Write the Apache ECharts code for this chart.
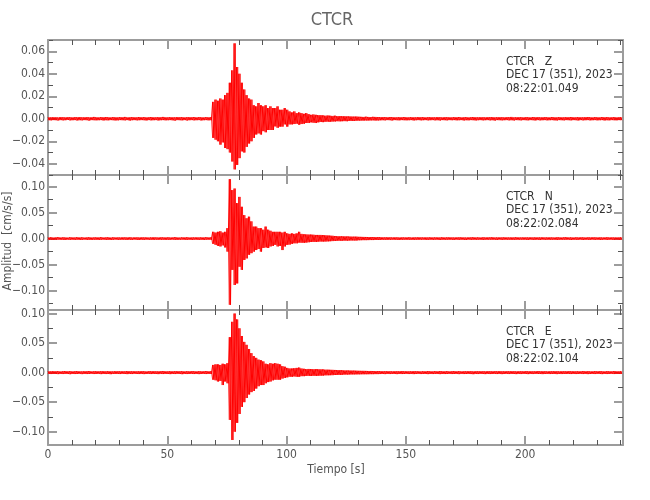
<!DOCTYPE html>
<html>
<head>
<meta charset="utf-8">
<script src="https://cdn.jsdelivr.net/npm/echarts@6/dist/echarts.min.js"></script>
<style>
html,body{margin:0;padding:0;background:#fff;}
#main{width:650px;height:500px;}
</style>
</head>
<body>
<div id="main"></div>
<script>
// ---------------- DATA ----------------
// Envelope of each trace, one sample per second (t = 0..240 s),
// in units of 1e-4 cm/s/s: upper peak and lower peak in that second.
const SCALE = 1e-4;
const SAMPLE_STEP = 1;

const chartTitle = 'CTCR';
const stationLabels = ['CTCR   Z', 'CTCR   N', 'CTCR   E'];
const dateLabels = ['DEC 17 (351), 2023', 'DEC 17 (351), 2023', 'DEC 17 (351), 2023'];
const startLabels = ['08:22:01.049', '08:22:02.084', '08:22:02.104'];
const xAxisName = 'Tiempo [s]';
const yAxisName = 'Amplitud  [cm/s/s]';

const xRange = [0, 241];
const xMajorTicks = [0, 50, 100, 150, 200];
const xMinorTicks = [10, 20, 30, 40, 60, 70, 80, 90, 110, 120, 130, 140, 160, 170, 180, 190, 210, 220, 230, 240];

const yRanges = [[-0.05, 0.07], [-0.137, 0.122], [-0.1225, 0.106]];
const yMajorTicks = [
  [-0.04, -0.02, 0, 0.02, 0.04, 0.06],
  [-0.10, -0.05, 0, 0.05, 0.10],
  [-0.10, -0.05, 0, 0.05, 0.10]
];
const yMinorTicks = [
  [-0.05, -0.03, -0.01, 0.01, 0.03, 0.05, 0.07],
  [-0.125, -0.075, -0.025, 0.025, 0.075],
  [-0.075, -0.025, 0.025, 0.075]
];

const zUpper = [
  13,12,14,13,11,15,13,12,14,13, 12,14,13,15,12,13,14,12,13,16,
  13,12,14,13,15,13,12,14,13,12, 14,13,16,12,13,14,13,12,15,13,
  14,12,13,15,13,12,14,13,16,13, 12,14,13,12,15,13,14,12,13,14,
  13,15,12,14,13,12,14,13,14,150, 170,160,180,170,210,230,320,430,670,460,
  400,320,260,210,180,170,120,110,140,120, 110,120,95,110,95,95,110,80,80,95,
  80,65,56,65,50,56,50,44,50,41, 35,38,35,32,32,30,27,29,27,25,
  27,23,24,22,23,21,21,20,19,20, 18,17,16,18,16,15,17,16,15,14,
  15,14,13,15,14,13,12,14,13,15, 13,12,14,13,12,15,13,14,12,13,
  14,13,12,15,13,12,14,13,13,12, 14,13,15,12,13,14,12,13,15,13,
  12,14,13,12,14,13,15,12,13,14, 13,12,14,13,16,12,13,14,13,12,
  14,13,12,15,13,14,12,13,14,13, 12,15,13,12,14,13,12,14,13,15,
  13,12,14,13,12,14,15,13,12,14, 13,12,15,13,14,12,13,14,12,13,14
];
const zLower = [
  -13,-14,-12,-13,-15,-12,-14,-13,-11,-14, -13,-12,-15,-13,-14,-12,-13,-16,-12,-13,
  -14,-13,-12,-15,-13,-14,-12,-13,-15,-14, -12,-13,-14,-12,-16,-13,-12,-14,-13,-12,
  -13,-15,-12,-14,-13,-12,-15,-13,-12,-14, -13,-12,-14,-16,-12,-13,-14,-12,-15,-13,
  -12,-14,-13,-12,-15,-13,-12,-14,-13,-170, -186,-200,-230,-210,-260,-270,-300,-380,-450,-410,
  -350,-290,-300,-250,-220,-200,-170,-140,-130,-140, -110,-120,-100,-100,-100,-68,-80,-70,-70,-50,
  -70,-50,-50,-47,-44,-53,-47,-44,-38,-38, -32,-35,-38,-32,-29,-30,-27,-26,-27,-25,
  -24,-22,-23,-22,-21,-22,-19,-20,-19,-18, -17,-16,-17,-15,-16,-15,-14,-16,-15,-14,
  -13,-14,-12,-13,-15,-12,-13,-14,-12,-13, -14,-13,-12,-15,-13,-12,-14,-13,-12,-14,
  -13,-12,-14,-13,-15,-12,-13,-14,-12,-13, -12,-14,-13,-12,-15,-13,-14,-12,-13,-15,
  -13,-12,-14,-13,-12,-14,-13,-16,-12,-13, -14,-13,-12,-14,-13,-15,-12,-13,-14,-12,
  -13,-14,-12,-13,-15,-12,-14,-13,-12,-14, -13,-12,-14,-15,-12,-13,-14,-12,-13,-14,
  -12,-13,-15,-12,-14,-13,-12,-14,-13,-12, -14,-13,-12,-15,-13,-14,-12,-13,-14,-12,-13
];
const nUpper = [
  22,25,20,23,27,21,24,22,19,25, 23,21,26,22,24,20,23,25,21,22,
  24,22,27,21,23,25,20,24,22,23, 21,25,23,22,26,20,24,23,21,25,
  22,24,20,23,26,22,21,25,23,22, 24,21,23,27,22,20,24,23,25,21,
  23,22,25,21,24,22,26,23,24,130, 115,130,140,115,130,200,1140,930,960,680,
  800,610,450,390,420,330,230,230,200,200, 170,230,170,150,130,130,130,130,115,130,
  100,90,100,90,100,130,90,83,80,77, 77,74,70,70,70,67,64,60,57,54,
  50,46,45,44,43,42,40,38,37,38, 34,33,32,31,30,30,29,28,28,27,
  25,23,26,24,22,25,23,21,24,22, 23,25,21,24,22,26,23,22,24,21,
  25,22,23,24,21,26,22,23,25,22, 21,24,23,25,22,20,24,23,26,22,
  23,21,25,22,24,23,27,21,22,24, 22,25,23,21,24,22,26,23,21,24,
  23,22,25,21,24,23,22,26,21,23, 24,22,21,25,23,22,24,27,22,23,
  21,24,22,25,23,21,24,22,26,23, 22,24,21,23,25,22,24,21,23,22,25
];
const nLower = [
  -23,-21,-25,-22,-20,-24,-22,-26,-21,-23, -22,-24,-21,-25,-23,-20,-24,-22,-26,-21,
  -23,-25,-22,-21,-24,-23,-26,-22,-20,-24, -22,-23,-21,-25,-22,-24,-20,-23,-26,-22,
  -24,-21,-23,-22,-25,-20,-24,-23,-21,-26, -22,-24,-21,-23,-25,-22,-20,-24,-23,-22,
  -25,-21,-23,-24,-22,-26,-21,-23,-22,-100, -120,-140,-150,-130,-170,-250,-1270,-600,-890,-860,
  -540,-600,-410,-380,-310,-280,-250,-220,-200,-250, -180,-170,-180,-150,-140,-120,-150,-140,-220,-150,
  -120,-115,-100,-90,-90,-77,-80,-80,-77,-70, -64,-64,-64,-60,-57,-57,-57,-54,-51,-48,
  -45,-43,-42,-41,-40,-40,-38,-37,-36,-38, -32,-31,-30,-30,-29,-28,-28,-27,-26,-26,
  -24,-22,-25,-23,-21,-24,-22,-26,-23,-21, -24,-22,-23,-25,-21,-24,-22,-20,-25,-23,
  -22,-24,-21,-23,-26,-22,-24,-21,-23,-22, -25,-21,-23,-22,-24,-26,-21,-23,-22,-24,
  -21,-23,-25,-22,-24,-20,-23,-22,-25,-21, -24,-22,-23,-21,-25,-23,-22,-24,-20,-23,
  -22,-25,-21,-23,-24,-22,-26,-21,-23,-22, -24,-21,-23,-25,-22,-24,-21,-23,-22,-26,
  -23,-22,-24,-21,-25,-23,-22,-24,-21,-23, -22,-25,-23,-21,-24,-22,-23,-25,-21,-24,-22
];
const eUpper = [
  23,21,25,22,24,20,23,26,22,24, 21,23,25,22,20,24,23,27,21,22,
  24,22,23,25,21,24,22,20,25,23, 22,24,21,26,23,22,24,21,23,25,
  22,20,24,23,25,21,22,24,26,23, 21,24,22,23,25,22,24,21,23,22,
  25,23,21,24,22,23,26,22,24,130, 140,140,130,150,140,160,600,860,1000,900,
  750,620,520,470,400,330,280,250,220,210, 190,150,140,160,150,160,150,140,110,100,
  80,70,70,75,80,85,70,65,60,62, 60,58,60,57,56,55,50,50,48,47,
  45,44,43,40,38,37,36,35,34,33, 31,30,30,29,28,28,27,26,26,25,
  24,22,25,23,21,24,22,23,26,22, 24,21,23,25,22,24,20,23,22,25,
  23,21,24,22,26,23,22,24,21,23, 25,22,24,21,23,22,25,23,21,24,
  22,24,23,21,25,22,23,24,22,26, 21,23,24,22,25,23,21,24,22,23,
  25,22,24,21,23,26,22,24,23,21, 24,22,25,23,21,24,22,23,25,22,
  24,21,23,22,25,23,24,21,22,24, 23,25,22,21,24,23,22,25,23,21,24
];
const eLower = [
  -22,-24,-21,-23,-25,-22,-24,-21,-23,-26, -22,-24,-23,-21,-25,-22,-24,-23,-20,-24,
  -23,-21,-25,-22,-24,-23,-26,-21,-23,-22, -24,-21,-23,-25,-22,-24,-20,-23,-24,-22,
  -25,-23,-21,-24,-22,-23,-25,-21,-24,-22, -23,-25,-22,-24,-21,-23,-26,-22,-24,-23,
  -21,-24,-22,-25,-23,-21,-24,-22,-23,-120, -130,-150,-140,-210,-150,-180,-800,-1140,-1000,-850,
  -700,-580,-500,-430,-370,-330,-310,-270,-230,-210, -210,-180,-160,-150,-130,-120,-120,-120,-100,-90,
  -80,-70,-70,-65,-70,-70,-60,-60,-56,-55, -56,-54,-55,-53,-52,-50,-46,-45,-44,-43,
  -40,-40,-39,-36,-34,-33,-32,-31,-30,-30, -29,-28,-28,-27,-27,-26,-26,-25,-25,-24,
  -23,-25,-22,-24,-21,-23,-25,-22,-24,-23, -21,-24,-22,-25,-23,-21,-24,-22,-23,-25,
  -22,-24,-21,-23,-25,-22,-24,-23,-21,-24, -23,-22,-25,-21,-24,-23,-22,-24,-26,-22,
  -24,-21,-23,-25,-22,-24,-23,-21,-24,-22, -25,-23,-21,-24,-22,-23,-25,-22,-24,-21,
  -23,-25,-22,-24,-21,-23,-22,-25,-23,-21, -24,-22,-23,-25,-22,-24,-21,-23,-22,-24,
  -22,-24,-23,-21,-24,-22,-25,-23,-22,-24, -21,-23,-25,-22,-24,-23,-21,-24,-22,-23,-22
];
const traceUpper = [zUpper, nUpper, eUpper];
const traceLower = [zLower, nLower, eLower];

// ---------------- LAYOUT / STYLE ----------------
const PLOT_LEFT = 48, PLOT_WIDTH = 575, PLOT_TOP = 40, PANEL_H = 135;
const FONT = "'Liberation Sans Narrow','DejaVu Sans Condensed','Liberation Sans',sans-serif";
const FRAME = '#9c9c9c';
const MINOR = '#555555';
const TXT = '#555555';

function fmtY(v) {
  const s = Math.abs(v).toFixed(2);
  return (v < -1e-9 ? '\u2212' : '') + s;
}

// The envelope band is drawn as two zigzag polylines of opposite phase
// (peak then trough, and trough then peak, in every sample interval).
function buildTrace(up, lo, phase) {
  const pts = [];
  for (let i = 0; i < up.length; i++) {
    const t = i * SAMPLE_STEP;
    const a = phase ? lo[i] : up[i];
    const b = phase ? up[i] : lo[i];
    pts.push([t, a * SCALE]);
    pts.push([t + SAMPLE_STEP / 2, b * SCALE]);
  }
  return pts;
}

const grids = [], xAxes = [], yAxes = [], series = [], graphics = [];
for (let p = 0; p < 3; p++) {
  const top = PLOT_TOP + p * PANEL_H;
  grids.push({ left: PLOT_LEFT, width: PLOT_WIDTH, top: top, height: PANEL_H, containLabel: false });
  const baseX = { gridIndex: p, type: 'value', min: xRange[0], max: xRange[1], splitLine: { show: false }, silent: true };
  xAxes.push(Object.assign({}, baseX, {
    position: 'bottom',
    axisLine: { show: true, onZero: false, lineStyle: { color: FRAME, width: 2 } },
    axisTick: { show: true, inside: true, length: 9, customValues: xMajorTicks, lineStyle: { color: FRAME, width: 2 } },
    axisLabel: { show: p === 2, customValues: xMajorTicks, margin: 4, fontFamily: FONT, fontSize: 12, color: TXT }
  }));
  xAxes.push(Object.assign({}, baseX, {
    position: 'bottom',
    axisLine: { show: false, onZero: false },
    axisTick: { show: true, inside: true, length: 5, customValues: xMinorTicks, lineStyle: { color: MINOR, width: 1 } },
    axisLabel: { show: false }
  }));
  xAxes.push(Object.assign({}, baseX, {
    position: 'top',
    axisLine: { show: true, onZero: false, lineStyle: { color: FRAME, width: 2 } },
    axisTick: { show: true, inside: true, length: 9, customValues: xMajorTicks, lineStyle: { color: FRAME, width: 2 } },
    axisLabel: { show: false }
  }));
  xAxes.push(Object.assign({}, baseX, {
    position: 'top',
    axisLine: { show: false, onZero: false },
    axisTick: { show: true, inside: true, length: 5, customValues: xMinorTicks, lineStyle: { color: MINOR, width: 1 } },
    axisLabel: { show: false }
  }));

  const baseY = { gridIndex: p, type: 'value', min: yRanges[p][0], max: yRanges[p][1], splitLine: { show: false }, silent: true };
  yAxes.push(Object.assign({}, baseY, {
    position: 'left',
    axisLine: { show: true, onZero: false, lineStyle: { color: FRAME, width: 2 } },
    axisTick: { show: true, inside: true, length: 9, customValues: yMajorTicks[p], lineStyle: { color: FRAME, width: 2 } },
    axisLabel: { show: true, customValues: yMajorTicks[p], margin: 3, formatter: fmtY, fontFamily: FONT, fontSize: 12, color: TXT }
  }));
  yAxes.push(Object.assign({}, baseY, {
    position: 'left',
    axisLine: { show: false, onZero: false },
    axisTick: { show: true, inside: true, length: 5, customValues: yMinorTicks[p], lineStyle: { color: MINOR, width: 1 } },
    axisLabel: { show: false }
  }));
  yAxes.push(Object.assign({}, baseY, {
    position: 'right',
    axisLine: { show: true, onZero: false, lineStyle: { color: FRAME, width: 2 } },
    axisTick: { show: true, inside: true, length: 9, customValues: yMajorTicks[p], lineStyle: { color: FRAME, width: 2 } },
    axisLabel: { show: false }
  }));
  yAxes.push(Object.assign({}, baseY, {
    position: 'right',
    axisLine: { show: false, onZero: false },
    axisTick: { show: true, inside: true, length: 5, customValues: yMinorTicks[p], lineStyle: { color: MINOR, width: 1 } },
    axisLabel: { show: false }
  }));

  for (let ph = 0; ph < 2; ph++) {
    series.push({
      type: 'line',
      xAxisIndex: p * 4,
      yAxisIndex: p * 4,
      data: buildTrace(traceUpper[p], traceLower[p], ph),
      symbol: 'none',
      showSymbol: false,
      sampling: null,
      clip: true,
      silent: true,
      lineStyle: { color: '#ff0000', width: 1, opacity: ph ? 0.75 : 1 },
      z: 1
    });
  }

  const lines = [stationLabels[p], dateLabels[p], startLabels[p]];
  const offs = [22, 35, 49];
  for (let k = 0; k < 3; k++) {
    graphics.push({
      type: 'text', x: 506, y: top + offs[k], silent: true,
      style: { text: lines[k], fill: '#333', fontFamily: FONT, fontSize: 12,
        align: 'left', verticalAlign: 'middle', textAlign: 'left', textVerticalAlign: 'middle' }
    });
  }
}

graphics.push({
  type: 'text', x: 332, y: 20, silent: true,
  style: { text: chartTitle, fill: '#666', fontFamily: FONT, fontSize: 18,
    align: 'center', verticalAlign: 'middle', textAlign: 'center', textVerticalAlign: 'middle' }
});
graphics.push({
  type: 'text', x: 336, y: 470, silent: true,
  style: { text: xAxisName, fill: TXT, fontFamily: FONT, fontSize: 12,
    align: 'center', verticalAlign: 'middle', textAlign: 'center', textVerticalAlign: 'middle' }
});
graphics.push({
  type: 'text', x: 8, y: 241, rotation: Math.PI / 2, silent: true,
  style: { text: yAxisName, fill: TXT, fontFamily: FONT, fontSize: 12,
    align: 'center', verticalAlign: 'middle', textAlign: 'center', textVerticalAlign: 'middle' }
});

const chart = echarts.init(document.getElementById('main'), null, { renderer: 'canvas' });
chart.setOption({
  animation: false,
  backgroundColor: '#ffffff',
  grid: grids,
  xAxis: xAxes,
  yAxis: yAxes,
  series: series,
  graphic: graphics
});
</script>
</body>
</html>
